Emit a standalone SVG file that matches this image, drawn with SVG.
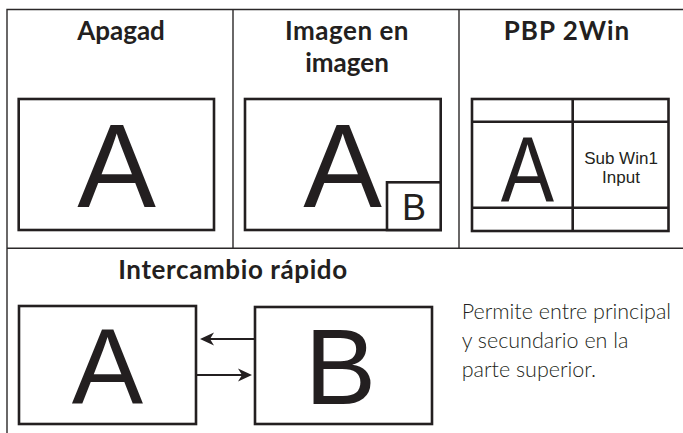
<svg xmlns="http://www.w3.org/2000/svg" width="683" height="433" viewBox="0 0 683 433">
<defs>
<style>
.grid{stroke:#2b2829;stroke-width:1.4;fill:none}
.scr{stroke:#231f20;stroke-width:2.6;fill:#fff}
.ln{stroke:#231f20;stroke-width:2.6;fill:none}
.hd{font-family:Lato,"Open Sans","Liberation Sans",sans-serif;font-weight:700;font-size:26px;fill:#231f20;text-anchor:middle}
.big{font-family:"Liberation Sans",Arial,sans-serif;fill:#231f20;text-anchor:middle}
.sm{font-family:"Liberation Sans",Arial,sans-serif;font-size:17px;fill:#231f20;text-anchor:middle}
.desc{font-family:Lato,"Open Sans","Liberation Sans",sans-serif;font-weight:300;font-size:21.5px;fill:#231f20}
.arr{stroke:#231f20;stroke-width:2;fill:none}
</style>
<marker id="ah" markerUnits="userSpaceOnUse" viewBox="0 0 14 14" refX="10" refY="7" markerWidth="14" markerHeight="14" orient="auto">
<path d="M0,0.5 L14,7 L0,13.5 L4,7 z" fill="#231f20"/>
</marker>
</defs>
<rect width="683" height="433" fill="#fff"/>
<g id="table">
<path class="grid" d="M7,433 V9.5 H683 M233,9.5 V248.3 M459,9.5 V248.3 M7,248.3 H683"/>
</g>
<g id="apagad">
<text class="hd" x="121" y="40">Apagad</text>
<rect class="scr" x="18.7" y="99" width="195.3" height="131"/>
<text class="big" x="116.5" y="206.5" font-size="118">A</text>
</g>
<g id="imagen-en-imagen">
<text class="hd" x="347" y="40" letter-spacing="0.5">Imagen en</text>
<text class="hd" x="347" y="72">imagen</text>
<rect class="scr" x="245" y="99" width="195.7" height="131"/>
<text class="big" x="342.7" y="206.5" font-size="118">A</text>
<rect class="scr" x="387" y="182.3" width="53.7" height="47.7"/>
<text class="big" x="414" y="219.5" font-size="36">B</text>
</g>
<g id="pbp-2win">
<text class="hd" x="567" y="40" letter-spacing="1">PBP 2Win</text>
<rect class="scr" x="472" y="99" width="196.5" height="132"/>
<path class="ln" d="M472,121.7 H668.5 M472,207.7 H668.5 M572.7,99 V231"/>
<text class="big" transform="translate(527.3,202.3) scale(0.86,1)" x="0" y="0" font-size="93">A</text>
<text class="sm" x="621" y="164">Sub Win1</text>
<text class="sm" x="621" y="182.5">Input</text>
</g>
<g id="intercambio-rapido">
<text class="hd" x="233" y="279.3" font-size="27" letter-spacing="0.6">Intercambio rápido</text>
<g id="screen-a">
<rect class="scr" x="19" y="306" width="177" height="118"/>
<text class="big" x="107.5" y="404" font-size="107">A</text>
</g>
<g id="screen-b">
<rect class="scr" x="255" y="307" width="177" height="117"/>
<text class="big" x="340.5" y="404" font-size="107">B</text>
</g>
<text class="desc" x="461.7" y="319">Permite entre principal</text>
<text class="desc" x="461.7" y="348">y secundario en la</text>
<text class="desc" x="461.7" y="377">parte superior.</text>
</g>
<g id="connectors">
<line class="arr" x1="255" y1="339" x2="204" y2="339" marker-end="url(#ah)"/>
<line class="arr" x1="196" y1="375" x2="248" y2="375" marker-end="url(#ah)"/>
</g>
</svg>
